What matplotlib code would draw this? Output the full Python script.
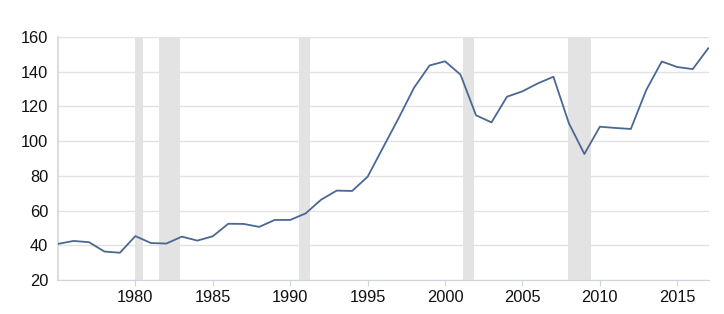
import matplotlib
matplotlib.use("Agg")
import matplotlib.pyplot as plt

years = list(range(1975, 2018))
values = [40.8, 42.5, 41.8, 36.4, 35.7, 45.3, 41.3, 41.0, 45.0, 42.7, 45.2, 52.4, 52.3, 50.6, 54.6, 54.6,
          58.4, 66.3, 71.5, 71.3, 79.5, 96.4, 113.2, 130.8, 143.6, 146.0, 138.3, 114.9, 110.8, 125.6,
          128.7, 133.3, 137.1, 110.3, 92.6, 108.3, 107.6, 107.0, 129.5, 145.9, 142.7, 141.5, 153.5]

recessions = [(1980.0, 1980.5), (1981.55, 1982.9), (1990.55, 1991.25), (2001.15, 2001.87), (2007.95, 2009.42)]

yticks = [20, 40, 60, 80, 100, 120, 140, 160]
xticks = [1980, 1985, 1990, 1995, 2000, 2005, 2010, 2015]

plt.rcParams['font.family'] = ['Liberation Sans', 'DejaVu Sans']

fig = plt.figure(figsize=(7.24, 3.14), dpi=100)
ax = fig.add_axes([58/724, 1 - 280/314, (709-58)/724, (280-37)/314])

for s, e in recessions:
    ax.axvspan(s, e, color='#e3e3e3', lw=0, zorder=1)

ax.plot(years, values, color='#4a6893', lw=1.3, zorder=3)

ax.set_xlim(1975, 2017.05)
ax.set_ylim(20, 160)
ax.set_yticks(yticks)
ax.set_xticks(xticks)
ax.set_yticklabels([str(v) for v in yticks], fontsize=11.8, color='#111111')
ax.set_xticklabels([str(v) for v in xticks], fontsize=11.8, color='#111111')
ax.grid(axis='y', color='#e2e2e2', lw=1, zorder=0)
ax.set_axisbelow(True)

for side in ['top', 'right']:
    ax.spines[side].set_visible(False)
ax.spines['left'].set_color('#dddddd')
ax.spines['bottom'].set_color('#cfd4dc')
ax.spines['left'].set_linewidth(1.5)
ax.tick_params(axis='y', length=0, pad=7)
ax.tick_params(axis='x', length=4, color='#cfd4dc', pad=3)

fig.savefig('out.png', dpi=100)
